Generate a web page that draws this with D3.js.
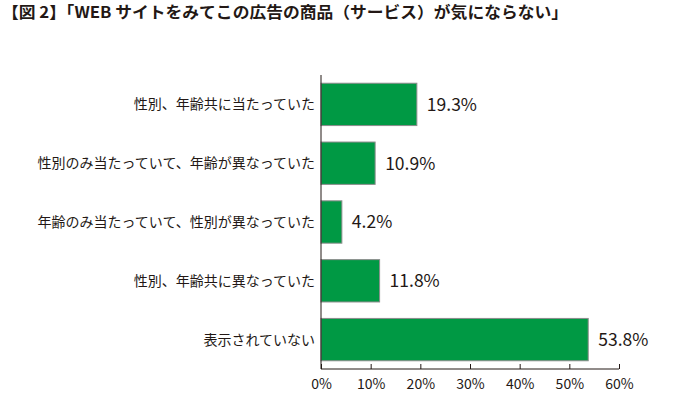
<!DOCTYPE html>
<html><head><meta charset="utf-8">
<script src="https://cdn.jsdelivr.net/npm/d3@7"></script>
<style>
html,body{margin:0;padding:0;background:#fff;}
text{font-family:"Noto Sans CJK JP","Noto Sans",sans-serif;fill:#231815;}
</style></head>
<body><svg id="c" width="687" height="393"></svg>
<script>
const title = "【図 2】「WEB サイトをみてこの広告の商品（サービス）が気にならない」";
const categories = ["性別、年齢共に当たっていた","性別のみ当たっていて、年齢が異なっていた","年齢のみ当たっていて、性別が異なっていた","性別、年齢共に異なっていた","表示されていない"];
const values = [19.3, 10.9, 4.2, 11.8, 53.8];
const ticks = [0,10,20,30,40,50,60];

const svg = d3.select("#c");
svg.append("text").attr("x",2).attr("y",18).attr("font-size",16).attr("font-weight","bold")
  .attr("textLength",566).attr("lengthAdjust","spacingAndGlyphs").text(title);

const x = d3.scaleLinear().domain([0,60]).range([321,619]);
const y = d3.scaleBand().domain(categories).range([75,369]).paddingInner(0.28).paddingOuter(0.14);

svg.selectAll("rect.bar").data(values).join("rect").attr("class","bar")
  .attr("x",x(0)).attr("y",(d,i)=>y(categories[i]))
  .attr("width",d=>x(d)-x(0)).attr("height",y.bandwidth())
  .attr("fill","#009944").attr("stroke","#8c8c8c").attr("stroke-width",1);

svg.selectAll("text.val").data(values).join("text").attr("class","val")
  .attr("x",d=>x(d)+10).attr("y",(d,i)=>y(categories[i])+y.bandwidth()/2)
  .attr("dy","0.36em").attr("font-size",17.5).attr("font-family","'Open Sans','Noto Sans',sans-serif")
  .text(d=>d.toFixed(1)+"%");

svg.selectAll("text.cat").data(categories).join("text").attr("class","cat")
  .attr("x",315).attr("y",d=>y(d)+y.bandwidth()/2).attr("dy","0.36em")
  .attr("text-anchor","end").attr("font-size",14).text(d=>d);

// axes
const ax = svg.append("g").attr("transform","translate(0,369)")
  .call(d3.axisBottom(x).tickValues(ticks).tickFormat(d=>d+"%").tickSize(-5).tickPadding(10));
ax.select(".domain").attr("stroke","#231815").attr("d","M"+x(0)+",0H"+x(60));
ax.selectAll(".tick line").attr("stroke","#231815");
ax.selectAll(".tick text").attr("font-size",14).attr("font-family","'Open Sans','Noto Sans',sans-serif").attr("fill","#231815");

svg.append("line").attr("x1",x(0)).attr("x2",x(0)).attr("y1",75).attr("y2",369).attr("stroke","#231815");
</script></body></html>
